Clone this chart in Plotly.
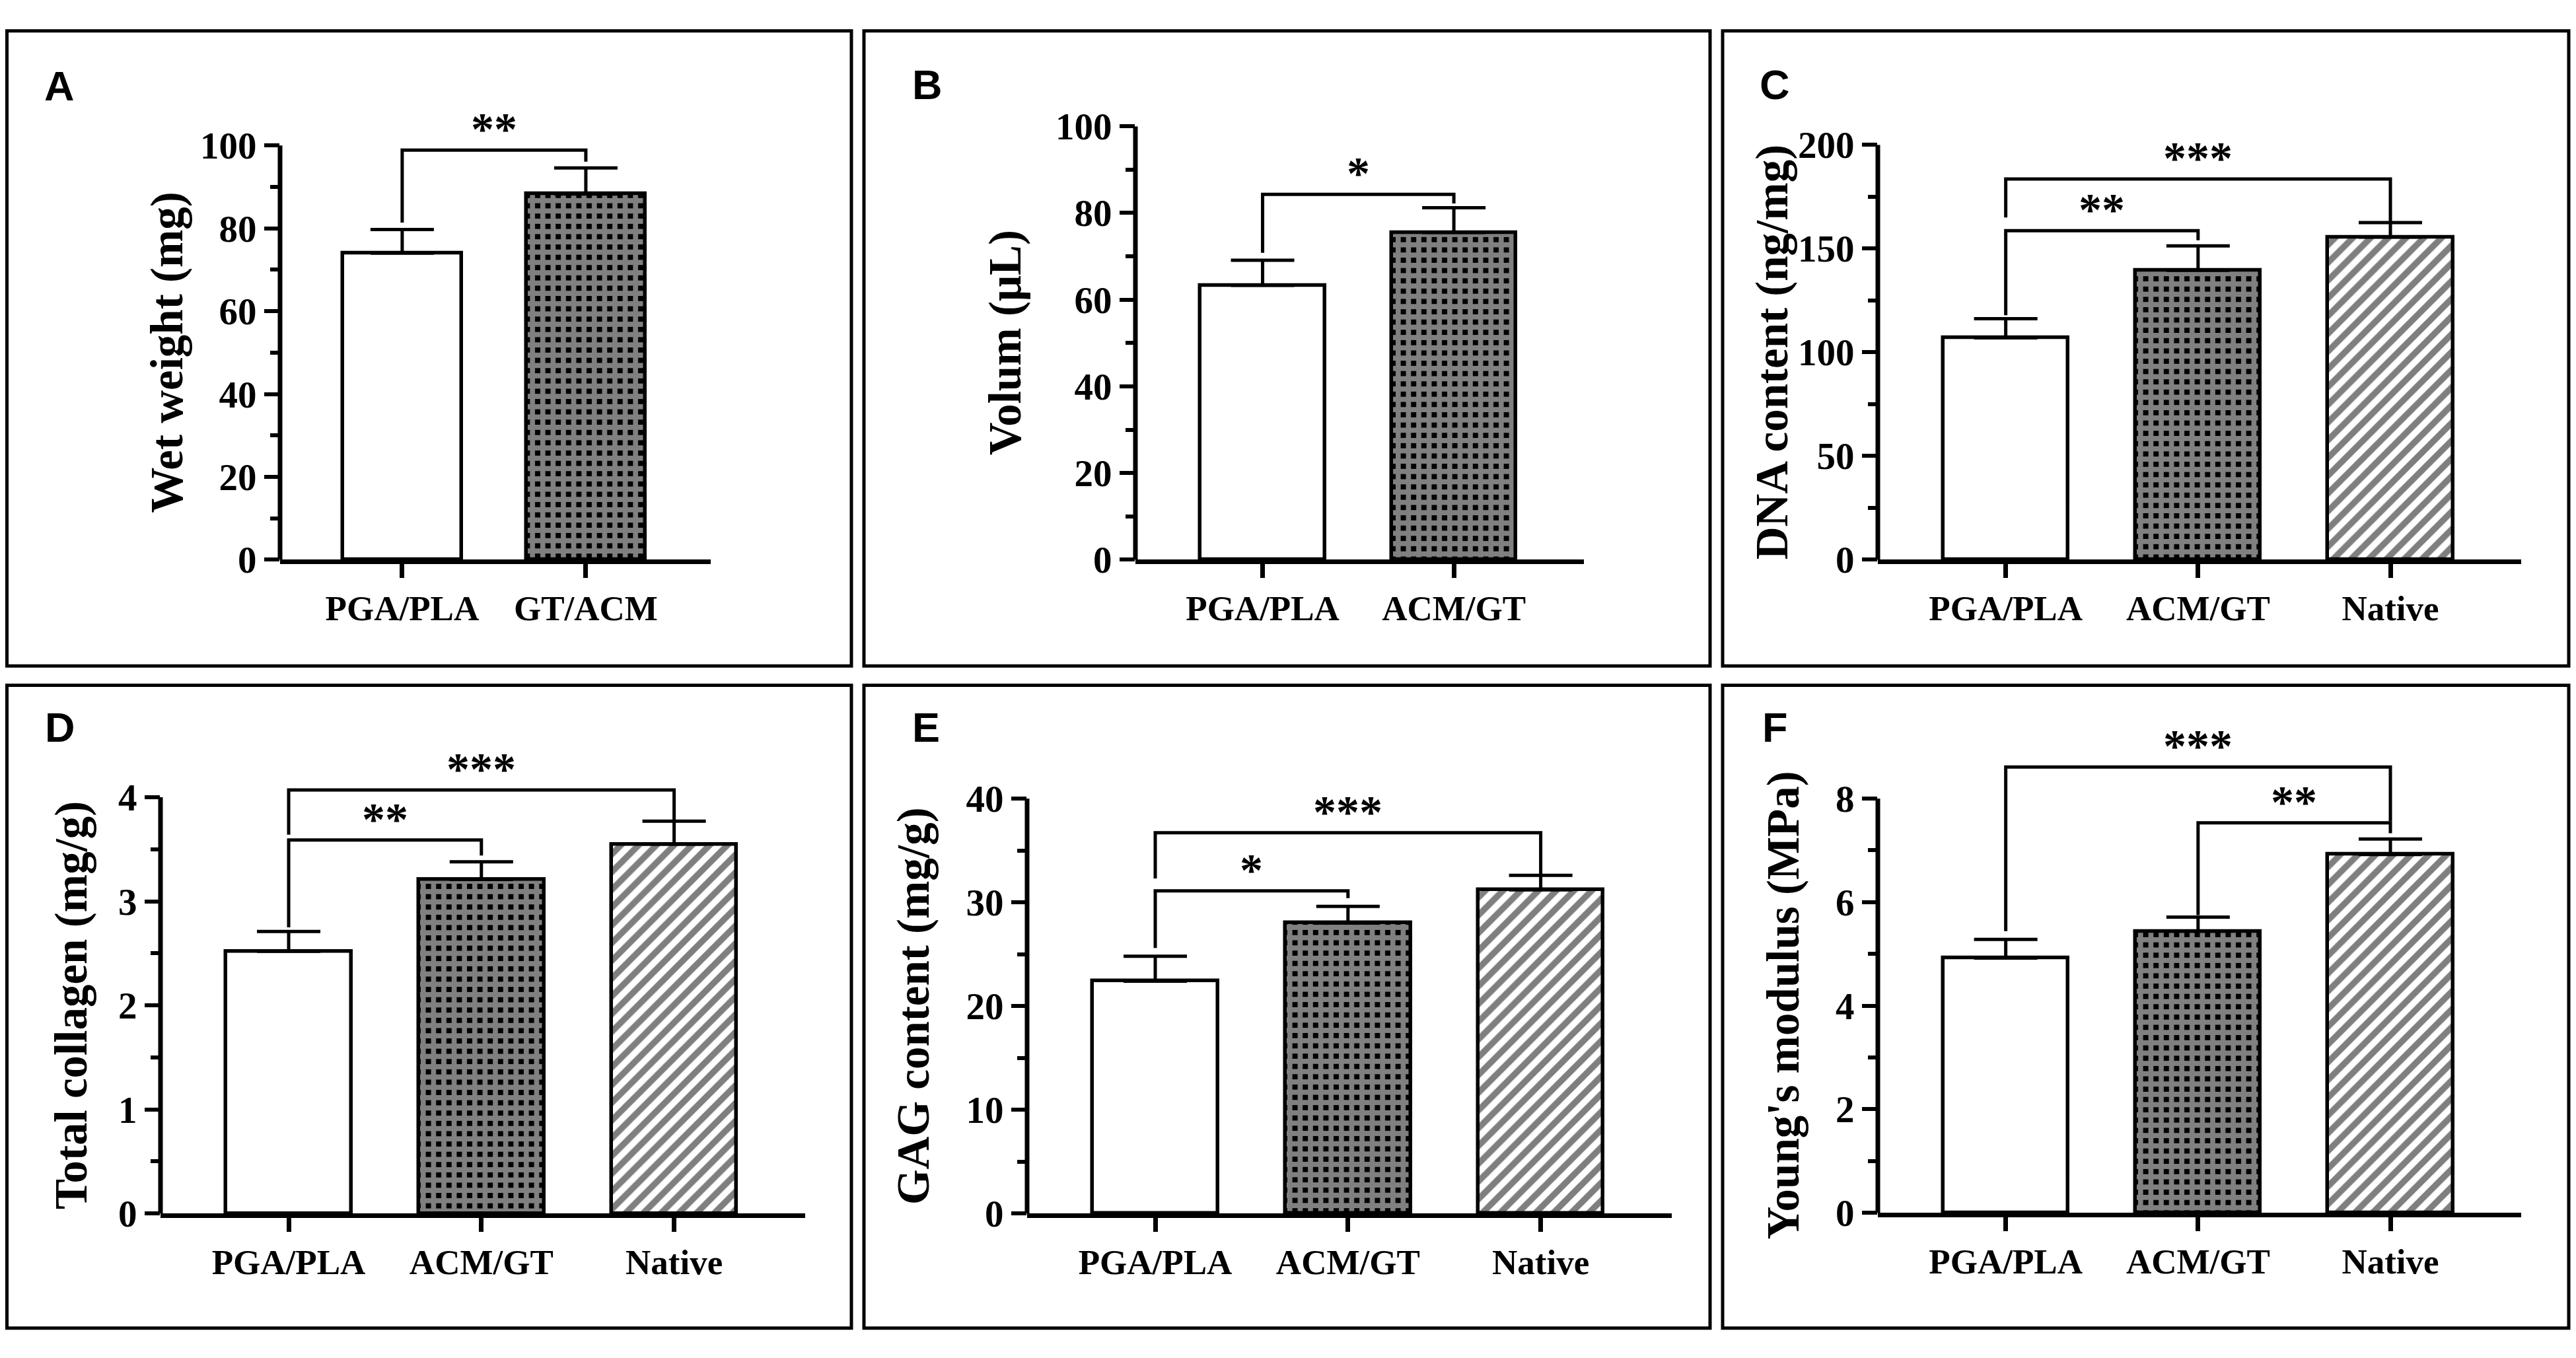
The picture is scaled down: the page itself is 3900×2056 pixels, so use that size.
import plotly.graph_objects as go

W, H = 3900, 2056
OFF = 8  # the page body adds an 8px margin; positions below are in screen px
SERIF = "Liberation Serif"
SANS = "Liberation Sans"

# ---- values ----
groups_a = ["PGA/PLA", "GT/ACM"]
groups_b = ["PGA/PLA", "ACM/GT"]
groups_3 = ["PGA/PLA", "ACM/GT", "Native"]

wet_weight = [74.0, 88.3]
wet_weight_sd = [5.7, 6.3]
volume = [63.3, 75.5]
volume_sd = [5.8, 5.7]
dna = [107.0, 139.5, 155.5]
dna_sd = [9.2, 11.8, 7.0]
collagen = [2.52, 3.21, 3.55]
collagen_sd = [0.19, 0.17, 0.22]
gag = [22.4, 28.0, 31.2]
gag_sd = [2.4, 1.6, 1.4]
modulus = [4.92, 5.44, 6.92]
modulus_sd = [0.36, 0.27, 0.30]

# significance brackets: (group i, group j, height, foot at i, foot at j, label)
wet_weight_sig = [(0, 1, 98.9, 81.4, 96.1, "**")]
volume_sig = [(0, 1, 84.3, 70.8, 82.2, "*")]
dna_sig = [(0, 1, 158.6, 117.9, 154.0, "**"), (0, 2, 183.5, 165.0, 162.6, "***")]
collagen_sig = [(0, 1, 3.59, 2.75, 3.44, "**"), (0, 2, 4.07, 3.64, 3.77, "***")]
gag_sig = [(0, 1, 31.1, 25.6, 30.4, "*"), (0, 2, 36.7, 32.3, 32.6, "***")]
modulus_sig = [(1, 2, 7.53, 5.75, 7.33, "**"), (0, 2, 8.61, 5.44, 7.56, "***")]

# y ticks
ticks_100 = [0, 20, 40, 60, 80, 100]
minor_100 = [10, 30, 50, 70, 90]
ticks_dna = [0, 50, 100, 150, 200]
minor_dna = [25, 75, 125, 175]
ticks_col = [0, 1, 2, 3, 4]
minor_col = [0.5, 1.5, 2.5, 3.5]
ticks_gag = [0, 10, 20, 30, 40]
minor_gag = [5, 15, 25, 35]
ticks_mod = [0, 2, 4, 6, 8]
minor_mod = [1, 3, 5, 7]

# bar fills: open, checker (black tiles), hatched
FILL = ["", "+", "/"]
FILL_FG = ["black", "white", "black"]
FILL_BG = ["white", "black", "white"]
FILL_SIZE = [10, 15.6, 19]
FILL_SOLID = [0.2, 0.74, 0.5]


def px(x):
    return (x - OFF) / W


def py(y):
    return 1 - (y - OFF) / H


def main():
    # box = plot area in px (x left, x right, y of zero, y of top tick)
    panels = [
        dict(letter="A", lx=65, ly=102, frame=(8, 1289, 16, 1008), box=(424, 1076, 842, 195),
             groups=groups_a, mean=wet_weight, sd=wet_weight_sd, sig=wet_weight_sig,
             ticks=ticks_100, minor=minor_100, title="Wet weight (mg)", toff=171),
        dict(letter="B", lx=1379, ly=100, frame=(1308, 2589, 16, 1008), box=(1719, 2398, 842, 165),
             groups=groups_b, mean=volume, sd=volume_sd, sig=volume_sig,
             ticks=ticks_100, minor=minor_100, title="Volum (μL)", toff=197),
        dict(letter="C", lx=2662, ly=100, frame=(2608, 3889, 16, 1008), box=(2843, 3817, 842, 194),
             groups=groups_3, mean=dna, sd=dna_sd, sig=dna_sig,
             ticks=ticks_dna, minor=minor_dna, title="DNA content (ng/mg)", toff=160),
        dict(letter="D", lx=66, ly=1104, frame=(8, 1289, 1038, 2042), box=(243, 1219, 1863, 1213),
             groups=groups_3, mean=collagen, sd=collagen_sd, sig=collagen_sig,
             ticks=ticks_col, minor=minor_col, title="Total collagen (mg/g)", toff=135),
        dict(letter="E", lx=1379, ly=1104, frame=(1308, 2589, 1038, 2042), box=(1555, 2531, 1863, 1215),
             groups=groups_3, mean=gag, sd=gag_sd, sig=gag_sig,
             ticks=ticks_gag, minor=minor_gag, title="GAG content (mg/g)", toff=172),
        dict(letter="F", lx=2666, ly=1104, frame=(2608, 3889, 1038, 2042), box=(2843, 3817, 1862, 1215),
             groups=groups_3, mean=modulus, sd=modulus_sd, sig=modulus_sig,
             ticks=ticks_mod, minor=minor_mod, title="Young's modulus (MPa)", toff=143),
    ]

    fig = go.Figure()
    layout = {}
    shapes = []
    annotations = []

    for k, p in enumerate(panels, start=1):
        sfx = "" if k == 1 else str(k)
        xa, ya = "x" + sfx, "y" + sfx
        n = len(p["groups"])
        xs = list(range(n))

        fig.add_trace(go.Bar(
            x=xs, y=p["mean"], width=0.65, xaxis=xa, yaxis=ya,
            marker=dict(color="white", line=dict(color="black", width=5.5),
                        pattern=dict(shape=FILL[:n], fgcolor=FILL_FG[:n], bgcolor=FILL_BG[:n],
                                     size=FILL_SIZE[:n], solidity=FILL_SOLID[:n])),
            error_y=dict(type="data", symmetric=False, array=p["sd"], arrayminus=[0] * n,
                         color="black", thickness=5, width=48),
            showlegend=False, hoverinfo="skip"))

        for i, j, h, fi, fj, lab in p["sig"]:
            fig.add_trace(go.Scatter(
                x=[i, i, j, j], y=[fi, h, h, fj], mode="lines", xaxis=xa, yaxis=ya,
                line=dict(color="black", width=5), showlegend=False, hoverinfo="skip"))
            annotations.append(dict(
                x=(i + j) / 2, y=h, xref=xa, yref=ya, text=lab, showarrow=False,
                yanchor="bottom", yshift=-9,
                font=dict(family=SERIF, size=70, color="black", weight="bold")))

        xl, xr, y0px, ytop = p["box"]
        ymax = p["ticks"][-1]
        ext = max(ymax, 1.04 * max(s[2] for s in p["sig"]))
        unit = (y0px - ytop) / ymax
        top_px = y0px - ext * unit

        layout["xaxis" + sfx] = dict(
            domain=[px(xl), px(xr)], range=[-0.665, n - 1 + 0.68], anchor=ya,
            tickmode="array", tickvals=xs, ticktext=p["groups"],
            ticks="outside", ticklen=21, tickwidth=6.5, tickcolor="black",
            showline=True, linewidth=7, linecolor="black",
            showgrid=False, zeroline=False, fixedrange=True,
            tickfont=dict(family=SERIF, size=53, color="black", weight="bold"))
        layout["yaxis" + sfx] = dict(
            domain=[py(y0px), py(top_px)], range=[0, ext], anchor=xa,
            tickmode="array", tickvals=p["ticks"],
            ticks="outside", ticklen=23, tickwidth=6, tickcolor="black",
            minor=dict(tickmode="array", tickvals=p["minor"], ticks="outside",
                       ticklen=14, tickwidth=6, tickcolor="black"),
            showline=False, showgrid=False, zeroline=False, fixedrange=True,
            tickfont=dict(family=SERIF, size=57, color="black", weight="bold"))

        # y axis line only up to the last tick
        shapes.append(dict(type="line", xref=xa + " domain", yref=ya, x0=0, x1=0,
                           y0=0, y1=ymax, line=dict(color="black", width=7)))

        fx0, fx1, fy0, fy1 = p["frame"]
        shapes.append(dict(type="rect", xref="paper", yref="paper",
                           x0=max(px(fx0), 2.5 / W), x1=px(fx1),
                           y0=py(fy1), y1=min(py(fy0), 1 - 2.5 / H),
                           line=dict(color="black", width=5)))

        annotations.append(dict(
            x=px(p["lx"]), y=py(p["ly"]), xref="paper", yref="paper",
            text=p["letter"], showarrow=False, xanchor="left", yanchor="middle",
            font=dict(family=SANS, size=63, color="black", weight="bold")))
        annotations.append(dict(
            x=px(xl - p["toff"]), y=py((y0px + ytop) / 2), xref="paper", yref="paper",
            text=p["title"], textangle=-90, showarrow=False, xanchor="center", yanchor="middle",
            font=dict(family=SERIF, size=69, color="black", weight="bold")))

    fig.update_layout(
        width=W, height=H, margin=dict(l=0, r=0, t=0, b=0),
        paper_bgcolor="white", plot_bgcolor="white",
        shapes=shapes, annotations=annotations, bargap=0, **layout)
    fig.write_html("out.html")


if __name__ == "__main__":
    main()
